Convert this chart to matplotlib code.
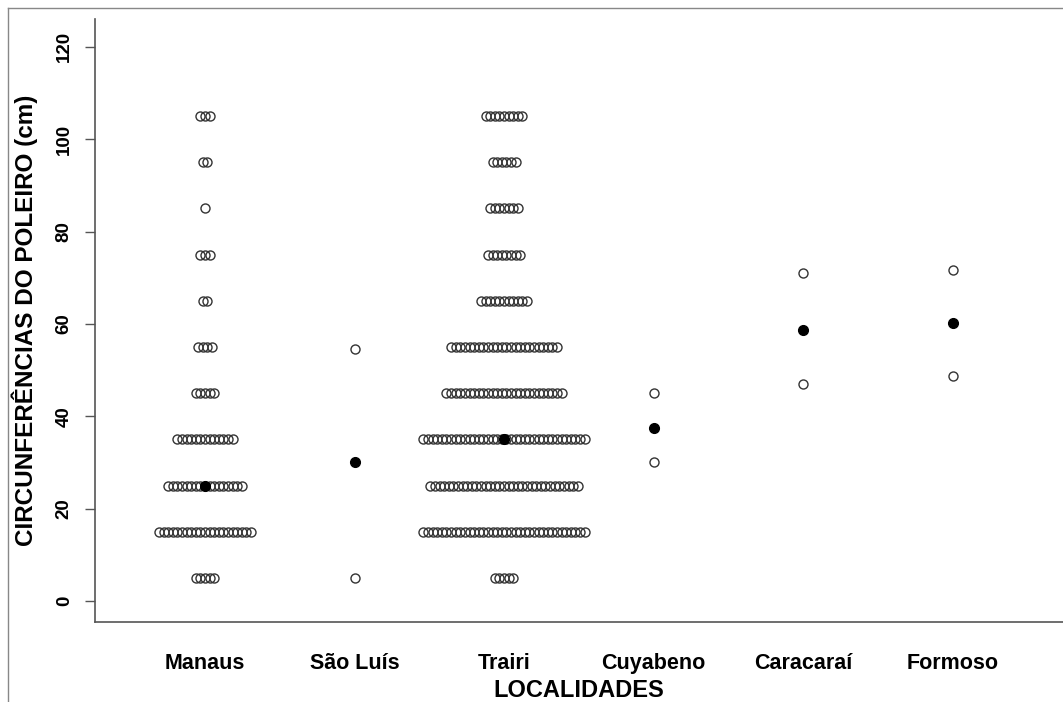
import matplotlib.pyplot as plt
from matplotlib.lines import Line2D
import numpy as np

plt.rcParams['font.family'] = ['Liberation Sans', 'DejaVu Sans']

# Dane
localidades = ['Manaus', 'São Luís', 'Trairi', 'Cuyabeno', 'Caracaraí', 'Formoso']

# Manaus i Trairi: poziomy obwodu i liczba punktów w każdym rzędzie
poziomy = [5, 15, 25, 35, 45, 55, 65, 75, 85, 95, 105]
manaus_n = [5, 21, 17, 13, 5, 4, 2, 3, 1, 2, 3]
trairi_n = [5, 36, 33, 36, 26, 24, 11, 8, 7, 6, 9]

# Pozostałe lokalności: pojedyncze punkty
sao_luis = [54.5, 5]
cuyabeno = [45, 30]
caracarai = [71, 47]
formoso = [71.7, 48.8]

# Mediany (czarne punkty)
medianas = [25, 30, 35, 37.5, 58.6, 60.2]

fig = plt.figure(figsize=(10.63, 7.02), dpi=100)
ax = fig.add_axes([0.0894, 0.114, 0.9106, 0.859])

dx = 0.0308  # odstęp między punktami w rzędzie
kolor = '#333333'


def rzedy(pos, poziomy, liczby):
    xs, ys = [], []
    for v, n in zip(poziomy, liczby):
        off = (np.arange(n) - (n - 1) / 2) * dx
        xs.extend(pos + off)
        ys.extend([v] * n)
    return xs, ys


grupy = [rzedy(1, poziomy, manaus_n),
         ([2] * len(sao_luis), sao_luis),
         rzedy(3, poziomy, trairi_n),
         ([4] * len(cuyabeno), cuyabeno),
         ([5] * len(caracarai), caracarai),
         ([6] * len(formoso), formoso)]

for xs, ys in grupy:
    ax.plot(xs, ys, 'o', mfc='none', mec=kolor, ms=6.5, mew=1.0, ls='none')

ax.plot(np.arange(1, 7), medianas, 'o', color='black', ms=7, ls='none')

ax.set_xlim(0.264, 6.739)
ax.set_ylim(-4.55, 126.05)

ax.spines['top'].set_visible(False)
ax.spines['right'].set_visible(False)
for s in ['left', 'bottom']:
    ax.spines[s].set_color('#555555')
    ax.spines[s].set_linewidth(1.2)

ax.set_yticks(range(0, 121, 20))
ax.set_yticklabels([str(v) for v in range(0, 121, 20)], rotation=90,
                   va='center', fontsize=13.5, fontweight='bold')
ax.tick_params(axis='y', length=7, width=1, color='#555555', pad=9)

ax.set_xticks(range(1, 7))
ax.set_xticklabels(localidades, fontsize=15.5, fontweight='bold')
ax.tick_params(axis='x', length=0, pad=22)

ax.set_ylabel('CIRCUNFERÊNCIAS DO POLEIRO (cm)', fontsize=17.5,
              fontweight='bold', labelpad=13)
ax.set_xlabel('LOCALIDADES', fontsize=17, fontweight='bold', labelpad=4)

# Ramka wokół obrazka
fig.add_artist(Line2D([8 / 1063, 8 / 1063], [0, 1 - 8 / 702], color='#888888', lw=1))
fig.add_artist(Line2D([8 / 1063, 1], [1 - 8 / 702, 1 - 8 / 702], color='#888888', lw=1))

fig.savefig('out.png', dpi=100)
